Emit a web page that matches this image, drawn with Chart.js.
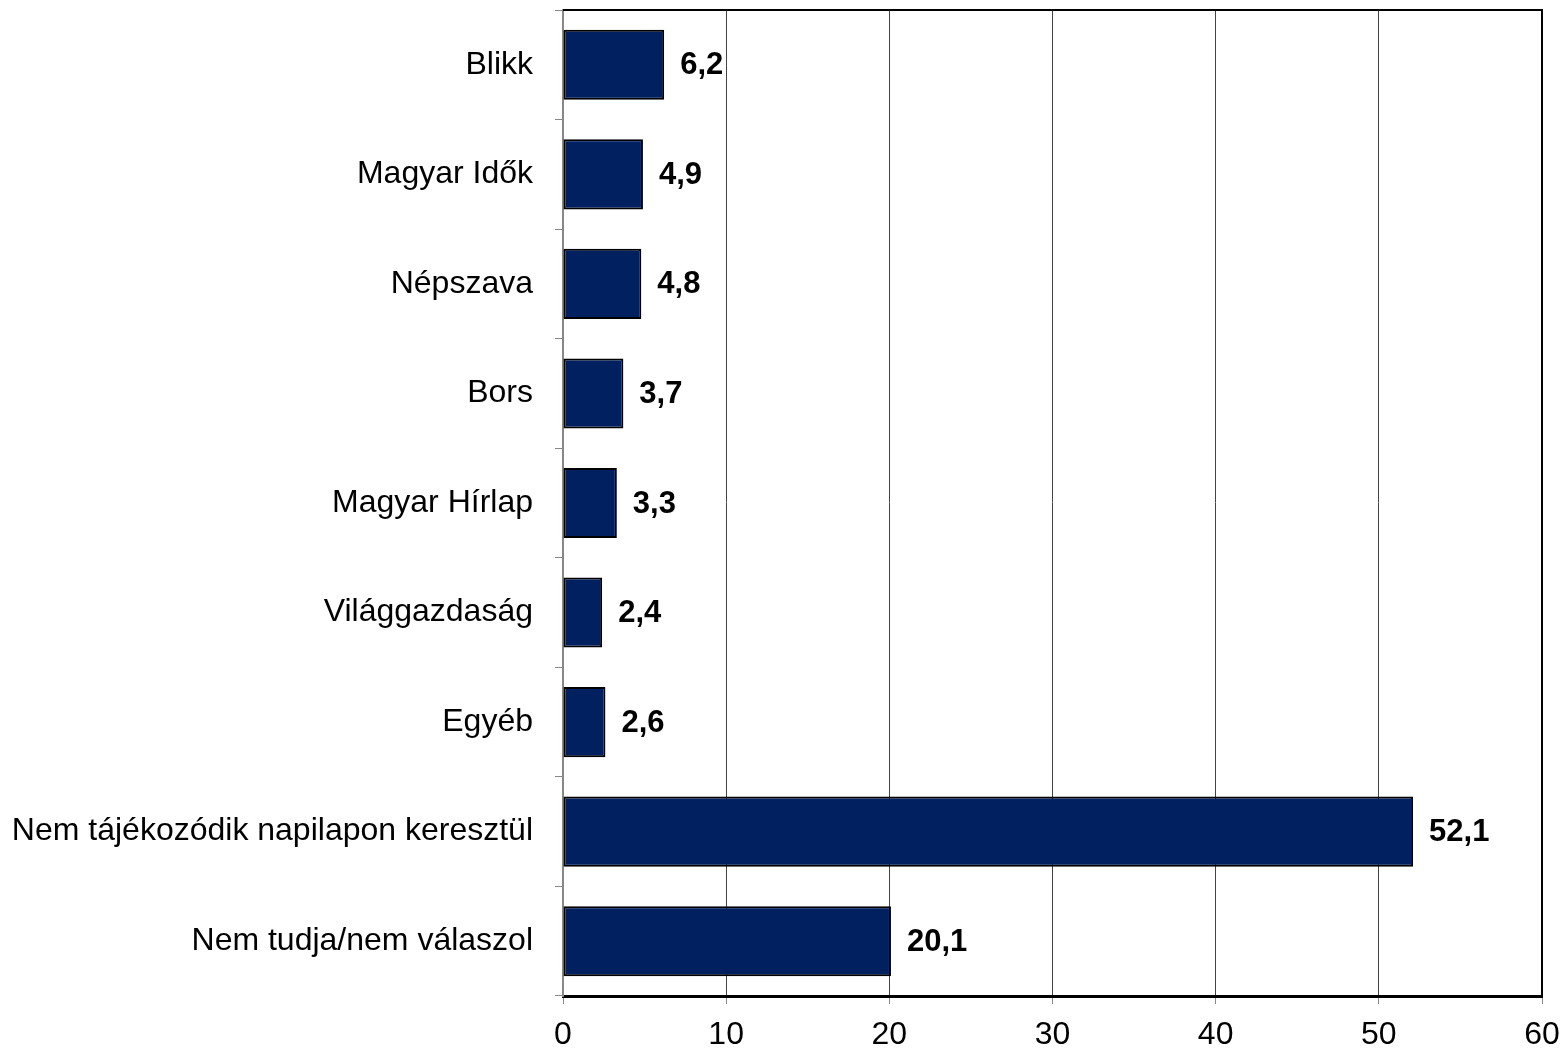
<!DOCTYPE html>
<html><head><meta charset="utf-8">
<script src="https://cdn.jsdelivr.net/npm/chart.js@4"></script>
<style>html,body{margin:0;padding:0;background:#fff}#wrap{width:1567px;height:1051px}</style>
</head><body><div id="wrap"><canvas id="c" width="1567" height="1051"></canvas></div>
<script>
const categories = ["Blikk","Magyar Idők","Népszava","Bors","Magyar Hírlap","Világgazdaság","Egyéb","Nem tájékozódik napilapon keresztül","Nem tudja/nem válaszol"];
const values = [6.2, 4.9, 4.8, 3.7, 3.3, 2.4, 2.6, 52.1, 20.1];
const valueLabels = ["6,2","4,9","4,8","3,7","3,3","2,4","2,6","52,1","20,1"];
const xTicks = [0,10,20,30,40,50,60];

const FONT = "'Liberation Sans', Arial, sans-serif";

const labelPlugin = {
  id: 'valueLabels',
  afterDatasetsDraw(chart) {
    const ctx = chart.ctx;
    const meta = chart.getDatasetMeta(0);
    ctx.save();
    ctx.font = "bold 31px " + FONT;
    ctx.fillStyle = "#000";
    ctx.textAlign = "left";
    ctx.textBaseline = "middle";
    meta.data.forEach((bar, i) => {
      ctx.fillText(valueLabels[i], bar.x + 16, bar.y + 1);
    });
    ctx.restore();
  }
};
const framePlugin = {
  id: 'frame',
  afterDraw(chart) {
    const a = chart.chartArea, ctx = chart.ctx;
    ctx.save();
    ctx.strokeStyle = "#000";
    ctx.lineWidth = 2;
    ctx.beginPath();
    ctx.moveTo(a.left, a.top);
    ctx.lineTo(a.right, a.top);
    ctx.lineTo(a.right, a.bottom);
    ctx.stroke();
    ctx.restore();
  }
};

new Chart(document.getElementById('c'), {
  type: 'bar',
  data: {
    labels: categories,
    datasets: [{
      data: values,
      backgroundColor: '#002060',
      borderColor: '#000',
      borderWidth: 2,
      borderSkipped: false,
      categoryPercentage: 1,
      barPercentage: 0.64
    }]
  },
  options: {
    indexAxis: 'y',
    responsive: false,
    animation: false,
    layout: { padding: { top: 10, right: 25, left: 0, bottom: 0 } },
    plugins: { legend: { display: false }, tooltip: { enabled: false } },
    scales: {
      x: {
        min: 0, max: 60,
        afterBuildTicks(s) { s.ticks = xTicks.map(v => ({ value: v })); },
        afterFit(s) { s.height = 55; s.paddingLeft = 0; s.paddingRight = 0; },
        grid: { color: '#444', lineWidth: 1, tickLength: 8, tickColor: '#888', drawTicks: true },
        border: { color: '#000', width: 3 },
        ticks: { color: '#000', font: { family: FONT, size: 32 }, padding: 12 }
      },
      y: {
        afterFit(s) { s.width = 563; s.paddingTop = 0; s.paddingBottom = 0; },
        grid: { offset: true, drawOnChartArea: false, tickLength: 8, color: '#888' },
        border: { color: '#888', width: 2 },
        ticks: { color: '#000', font: { family: FONT, size: 32 }, padding: 22 }
      }
    }
  },
  plugins: [labelPlugin, framePlugin]
});
</script>
</body></html>
